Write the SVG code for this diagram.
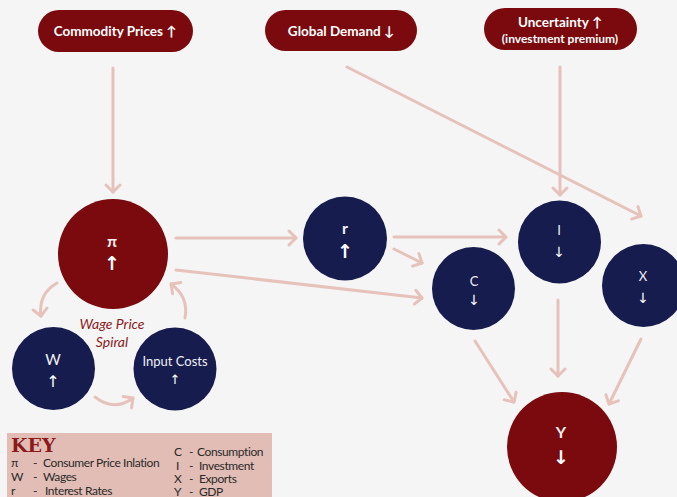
<svg xmlns="http://www.w3.org/2000/svg" width="677" height="497" viewBox="0 0 677 497">
<defs>
<marker id="ah" viewBox="-10 -9 12 18" refX="0" refY="0" markerWidth="12" markerHeight="18" markerUnits="userSpaceOnUse" orient="auto" overflow="visible">
<path d="M-7,-7 L0,0 L-7,7" fill="none" stroke="#e6c2ba" stroke-width="3" stroke-linecap="round" stroke-linejoin="round"/>
</marker>
</defs>
<style>
.pill{fill:#7a0a0e}
.ptxt{font-family:Lato,"Liberation Sans",sans-serif;font-weight:bold;fill:#ffffff;text-anchor:middle}
.red{fill:#7a0a0e}
.blue{fill:#161c4d}
.ntxt{font-family:Lato,"Liberation Sans",sans-serif;fill:#f0f0f4;text-anchor:middle}
.arr{font-family:"DejaVu Sans",sans-serif;fill:#ffffff;text-anchor:middle}
.con{fill:none;stroke:#e6c2ba;stroke-width:3;stroke-linecap:round;marker-end:url(#ah)}
.key{font-family:Lato,"Liberation Sans",sans-serif;font-size:12px;fill:#2a2a2a;letter-spacing:-0.4px}
</style>
<rect width="677" height="497" fill="#f5f5f5"/>

<g id="connectors">
<line class="con" x1="113" y1="68" x2="113" y2="192"/>
<line class="con" x1="347" y1="67" x2="641" y2="216"/>
<line class="con" x1="560" y1="67" x2="560" y2="195"/>
<line class="con" x1="176" y1="238" x2="296" y2="238"/>
<line class="con" x1="176" y1="270" x2="422" y2="298"/>
<line class="con" x1="394" y1="237" x2="506" y2="237"/>
<line class="con" x1="394" y1="249" x2="422" y2="263"/>
<line class="con" x1="558" y1="300" x2="558" y2="376"/>
<line class="con" x1="475" y1="341" x2="514" y2="402"/>
<line class="con" x1="641" y1="339" x2="609" y2="404"/>
<path class="con" d="M57,283 Q38,294 41,316"/>
<path class="con" d="M95,397 Q114,412 133,398"/>
<path class="con" d="M185,318 Q189,297 171,284"/>
</g>

<g id="commodity">
<rect class="pill" x="38" y="10" width="155" height="42" rx="21"/>
<text class="ptxt" x="115" y="36" font-size="13.5">Commodity Prices ↑</text>
</g>
<g id="global-demand">
<rect class="pill" x="265" y="10" width="152" height="41" rx="20.5"/>
<text class="ptxt" x="341" y="36" font-size="13.5">Global Demand ↓</text>
</g>
<g id="uncertainty">
<rect class="pill" x="484" y="8" width="153" height="42" rx="21"/>
<text class="ptxt" x="560" y="27" font-size="13.5">Uncertainty ↑</text>
<text class="ptxt" x="560" y="43" font-size="12">(investment premium)</text>
</g>

<g id="pi">
<circle class="red" cx="113" cy="254" r="55"/>
<text class="ntxt" x="112" y="247" font-size="16" font-weight="bold">π</text>
<text class="arr" x="112" y="270" font-size="19" font-weight="bold">↑</text>
</g>
<g id="r">
<circle class="blue" cx="345" cy="238.5" r="42"/>
<text class="ntxt" x="345" y="234" font-size="16" font-weight="bold">r</text>
<text class="arr" x="345" y="258" font-size="19" font-weight="bold">↑</text>
</g>
<g id="C">
<circle class="blue" cx="473.5" cy="288.5" r="41.5"/>
<text class="ntxt" x="474" y="286" font-size="13">C</text>
<text class="arr" x="474" y="305" font-size="14">↓</text>
</g>
<g id="I">
<circle class="blue" cx="559.5" cy="242" r="41.5"/>
<text class="ntxt" x="559" y="235" font-size="13">I</text>
<text class="arr" x="559" y="257" font-size="14">↓</text>
</g>
<g id="X">
<circle class="blue" cx="643.5" cy="285.5" r="41.5"/>
<text class="ntxt" x="643" y="281" font-size="13">X</text>
<text class="arr" x="643" y="303" font-size="14">↓</text>
</g>
<g id="Y">
<circle class="red" cx="562" cy="447" r="55"/>
<text class="ntxt" x="561" y="438" font-size="16" font-weight="bold">Y</text>
<text class="arr" x="561" y="464" font-size="19" font-weight="bold">↓</text>
</g>
<g id="W">
<circle class="blue" cx="53.5" cy="368.5" r="41.5"/>
<text class="ntxt" x="53" y="365" font-size="15">W</text>
<text class="arr" x="53" y="387" font-size="16">↑</text>
</g>
<g id="input-costs">
<circle class="blue" cx="175" cy="369" r="41.5"/>
<text class="ntxt" x="175" y="366" font-size="13">Input Costs</text>
<text class="arr" x="175" y="384" font-size="13">↑</text>
</g>

<g id="spiral-label">
<text x="112" y="329" font-family="Lato,'Liberation Sans',sans-serif" font-style="italic" font-size="14" fill="#8b1a1a" text-anchor="middle">Wage Price</text>
<text x="112" y="347" font-family="Lato,'Liberation Sans',sans-serif" font-style="italic" font-size="14" fill="#8b1a1a" text-anchor="middle">Spiral</text>
</g>

<g id="key">
<rect x="7" y="433" width="265" height="70" fill="#e2bdb5"/>
<text x="11" y="452" font-family="'DejaVu Serif','Liberation Serif',serif" font-weight="bold" font-size="19" fill="#8b1a1a">KEY</text>
<text class="key" x="11" y="467">π</text>
<text class="key" x="33" y="467">-</text>
<text class="key" x="43" y="467">Consumer Price Inlation</text>
<text class="key" x="11" y="481">W</text>
<text class="key" x="33" y="481">-</text>
<text class="key" x="43" y="481">Wages</text>
<text class="key" x="11" y="495">r</text>
<text class="key" x="33" y="495">-</text>
<text class="key" x="45" y="495">Interest Rates</text>
<text class="key" x="174" y="456">C</text>
<text class="key" x="189" y="456">-</text>
<text class="key" x="197" y="456">Consumption</text>
<text class="key" x="176" y="470">I</text>
<text class="key" x="189" y="470">-</text>
<text class="key" x="199" y="470">Investment</text>
<text class="key" x="174" y="483">X</text>
<text class="key" x="189" y="483">-</text>
<text class="key" x="199" y="483">Exports</text>
<text class="key" x="174" y="496">Y</text>
<text class="key" x="189" y="496">-</text>
<text class="key" x="199" y="496">GDP</text>
</g>
</svg>
